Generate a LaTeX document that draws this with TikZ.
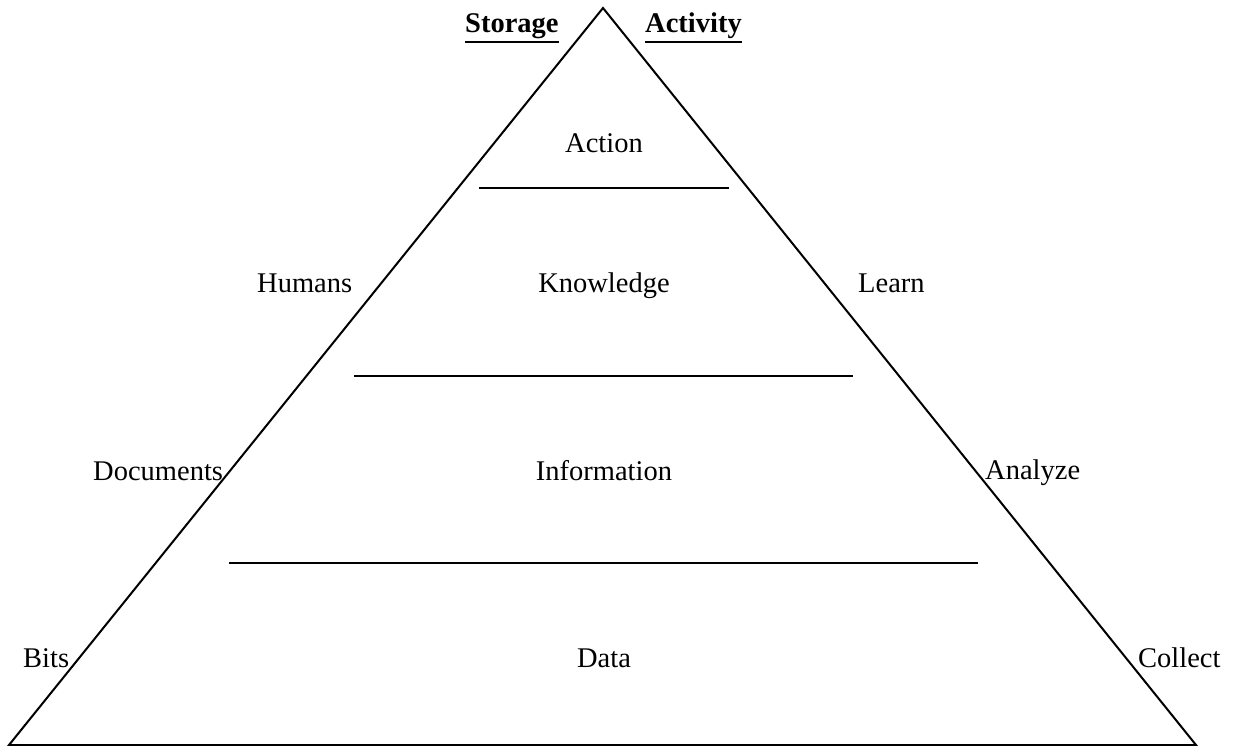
\documentclass[tikz,border=0pt]{standalone}
\usepackage{fontspec}
\setmainfont{Liberation Serif}
\begin{document}
\begin{tikzpicture}[x=1pt,y=-1pt,
  lbl/.style={inner sep=0pt,font=\fontsize{28.5}{34}\selectfont},
  hdr/.style={inner sep=0pt,font=\fontsize{28.5}{34}\selectfont\bfseries},
  edge/.style={line width=2pt,line join=miter},
  sep/.style={line width=2.6pt},
  uline/.style={line width=2.6pt}]
\useasboundingbox (0,0) rectangle (1238,746);
% triangle
\coordinate (apex) at (603,8);
\coordinate (bl) at (9,745);
\coordinate (br) at (1196,745);
\draw[edge] (bl) -- (apex) -- (br) -- cycle;
% separators
\coordinate (s1a) at (479,188); \coordinate (s1b) at (729,188);
\coordinate (s2a) at (354,376); \coordinate (s2b) at (853,376);
\coordinate (s3a) at (229,563); \coordinate (s3b) at (978,563);
\draw[sep] (s1a) -- (s1b);
\draw[sep] (s2a) -- (s2b);
\draw[sep] (s3a) -- (s3b);
% headers
\node[hdr,anchor=base west] (st) at (465,33) {Storage};
\node[hdr,anchor=base west] (ac) at (645,33) {Activity};
\draw[uline] ([yshift=-9pt]st.base west) -- ([yshift=-9pt]st.base east);
\draw[uline] ([yshift=-9pt]ac.base west) -- ([yshift=-9pt]ac.base east);
% centre labels
\node[lbl,anchor=base] (action) at (604,153) {Action};
\node[lbl,anchor=base] (know) at (604,292) {Knowledge};
\node[lbl,anchor=base] (info) at (604,480) {Information};
\node[lbl,anchor=base] (data) at (604,667) {Data};
% left labels
\node[lbl,anchor=base west] (hum) at (257,292) {Humans};
\node[lbl,anchor=base west] (doc) at (93,480) {Documents};
\node[lbl,anchor=base west] (bits) at (23,667) {Bits};
% right labels
\node[lbl,anchor=base west] (learn) at (858,292) {Learn};
\node[lbl,anchor=base west] (anal) at (985,479) {Analyze};
\node[lbl,anchor=base west] (coll) at (1138,667) {Collect};
\end{tikzpicture}
\end{document}
